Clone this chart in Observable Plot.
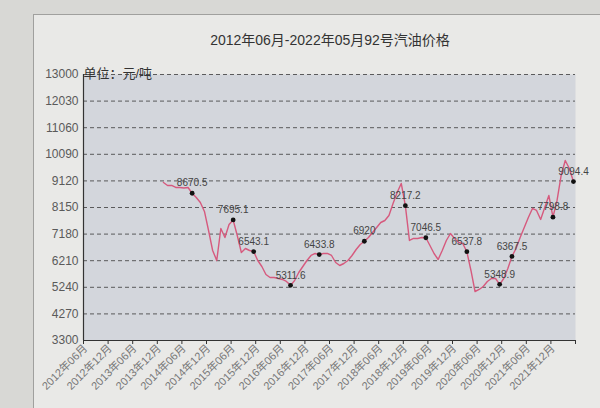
<!DOCTYPE html>
<html>
<head>
<meta charset="utf-8">
<script src="https://cdn.jsdelivr.net/npm/d3@7"></script>
<script src="https://cdn.jsdelivr.net/npm/@observablehq/plot@0.6"></script>
<style>
  html, body { margin: 0; padding: 0; }
  body { width: 600px; height: 408px; position: relative; overflow: hidden; background: #d8d8d5; font-family: "Liberation Sans", "Noto Sans CJK SC", sans-serif; }
  #sheet { position: absolute; left: 33px; top: 14px; width: 580px; height: 400px; background: #e9e9e7; border-left: 1px solid #a0a09e; border-top: 1px solid #a0a09e; }
  #title { position: absolute; left: 0; top: 29px; width: 660px; text-align: center; font-size: 14px; color: #333; font-family: "Liberation Sans", "Noto Sans CJK SC", sans-serif; }
  #chart { position: absolute; left: 0; top: 55px; }
</style>
</head>
<body>
<div id="sheet"></div>
<div id="title">2012年06月-2022年05月92号汽油价格</div>
<div id="chart"></div>
<script>
// x tick labels (every 6th month category)
const tickLabels = ["2012年06月","2012年12月","2013年06月","2013年12月","2014年06月","2014年12月","2015年06月","2015年12月","2016年06月","2016年12月","2017年06月","2017年12月","2018年06月","2018年12月","2019年06月","2019年12月","2020年06月","2020年12月","2021年06月","2021年12月"];
// y tick values
const yTicks = [3300, 4270, 5240, 6210, 7180, 8150, 9120, 10090, 11060, 12030, 13000];
// monthly prices, index 0 = 2012年06月 ... 119 = 2022年05月 (null = no data)
const prices = [
  null,null,null,null,null,null,null,null,null,null,
  null,null,null,null,null,null,null,null,null,9062,
  8953,8953,8880,8880,8862,8880,8670.5,8515,8333,8005,
  7312,6582,6218,7385,7056,7530,7695.1,7129,6509,6655,
  6582,6543.1,6218,5999,5707,5598,5598,5561,5525,5452,
  5311.6,5488,5780,5999,6218,6400,6473,6433.8,6473,6473,
  6400,6145,6035,6108,6218,6400,6619,6801,6920,7056,
  7239,7421,7603,7676,7859,8297,8698,9026,8217.2,6947,
  7020,7020,7056,7046.5,6765,6473,6254,6582,6947,7202,
  7020,6874,6838,6537.8,5853,5087,5160,5269,5452,5561,
  5561,5348.9,5561,5926,6367.5,6655,7056,7421,7786,8114,
  8041,7713,8151,8588,7798.8,8406,9318,9865,9573,9094.4
];
// months carrying a data label
const labelledIdx = [26, 36, 41, 50, 57, 68, 78, 83, 93, 101, 104, 114, 119];
const unitLabel = "单位：元/吨";

const series = prices.map((v, i) => ({i, v}));
const labelled = labelledIdx.map(i => ({i, v: prices[i]}));
const labelTicks = tickLabels.map((_, k) => k * 6);
const boundaries = d3.range(-0.5, 120, 6);

const font = "Liberation Sans, Noto Sans CJK SC, sans-serif";

const chart = Plot.plot({
  width: 600,
  height: 353,
  marginLeft: 83,
  marginRight: 25,
  marginTop: 19,
  marginBottom: 68,
  style: {background: "transparent", fontFamily: font},
  x: {domain: [-0.5, 119.5], axis: null},
  y: {domain: [3300, 13000], axis: null},
  marks: [
    Plot.frame({fill: "#d3d6dc", stroke: null}),
    Plot.gridY(yTicks, {stroke: "#444", strokeOpacity: 0.85, strokeDasharray: "4,3", strokeWidth: 1}),
    Plot.axisY({ticks: yTicks, tickSize: 0, tickPadding: 5, fontSize: 12, fill: "#5a5a5a", tickFormat: d => String(d), label: null}),
    Plot.ruleX([-0.5], {stroke: "#333", strokeWidth: 1.2}),
    Plot.ruleY([3300], {stroke: "#333", strokeWidth: 1.2}),
    Plot.axisX({ticks: boundaries, tickFormat: () => "", tickSize: 4, stroke: "#333", label: null}),
    Plot.axisX({ticks: labelTicks, tickFormat: i => tickLabels[i / 6], tickRotate: -45, tickSize: 0, tickPadding: 6, fontSize: 11, fill: "#777", label: null}),
    Plot.text([unitLabel], {frameAnchor: "top-left", textAnchor: "start", lineAnchor: "middle", dy: -1, fontSize: 13, fill: "#333"}),
    Plot.line(series, {x: "i", y: "v", stroke: "#d65a7e", strokeWidth: 1.4, defined: d => d.v != null}),
    Plot.dot(labelled, {x: "i", y: "v", r: 2.4, fill: "#111", stroke: null}),
    Plot.text(labelled, {x: "i", y: "v", text: d => String(d.v), dy: -10, fontSize: 10, fill: "#444"})
  ]
});
document.getElementById("chart").appendChild(chart);
</script>
</body>
</html>
